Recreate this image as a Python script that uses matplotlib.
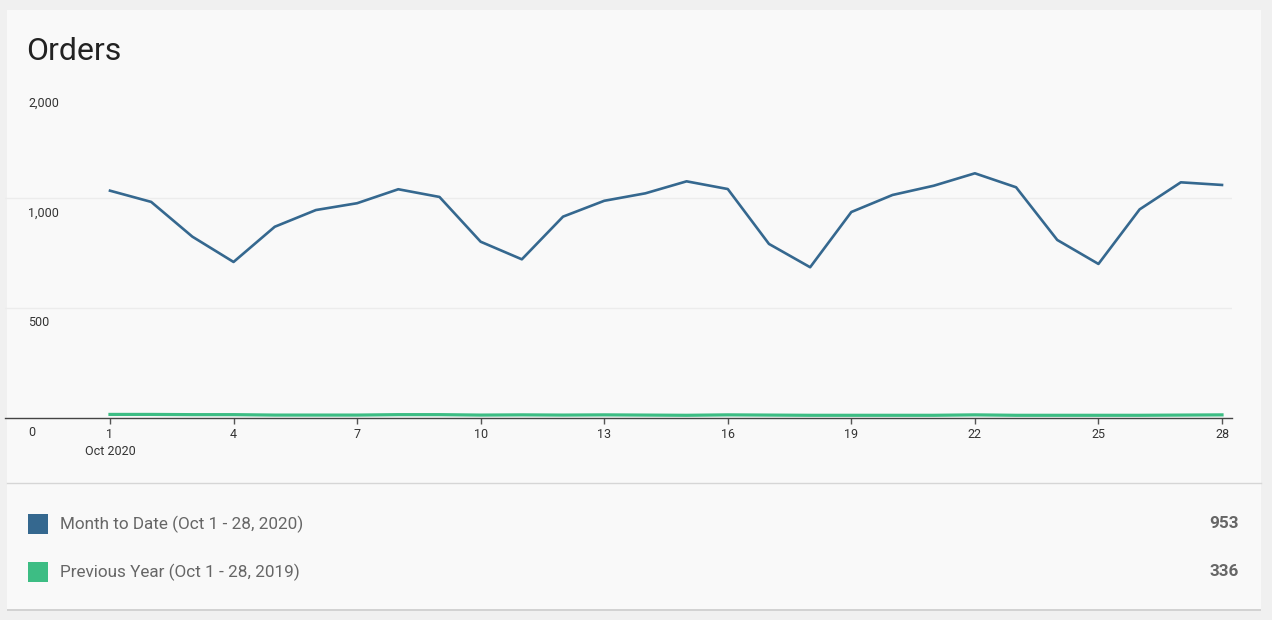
import numpy as np
import matplotlib
matplotlib.use('Agg')
import matplotlib.pyplot as plt
from matplotlib import transforms
from matplotlib.patches import Rectangle

plt.rcParams['font.family'] = ['Roboto', 'DejaVu Sans']

# data
days = list(range(1, 29))
month_to_date = [1062, 980, 822, 707, 867, 943, 974, 1075, 1005, 799,
                 719, 913, 985, 1038, 1147, 1077, 789, 683, 934, 1023,
                 1107, 1220, 1093, 807, 698, 946, 1138, 1114]
previous_year = [14, 14, 13, 13, 11, 11, 11, 13, 13, 11,
                 12, 11, 12, 11, 10, 12, 11, 10, 10, 10,
                 10, 12, 10, 10, 10, 10, 11, 12]
series_names = ['Month to Date (Oct 1 - 28, 2020)', 'Previous Year (Oct 1 - 28, 2019)']
series_totals = ['953', '336']
series_colors = ['#35688f', '#3dbd84']

y_ticks = [0, 500, 1000, 2000]
y_labels = ['0', '500', '1,000', '2,000']
x_ticks = [1, 4, 7, 10, 13, 16, 19, 22, 25, 28]

W, H = 1272, 620
fig = plt.figure(figsize=(W / 100, H / 100), dpi=100)
fig.patch.set_facecolor('#f0f0f0')

def fx(px):
    return px / W

def fy(py):
    return 1 - py / H

# card background (behind the axes)
fig.patches.append(Rectangle((fx(7), fy(611)), fx(1254), (611 - 10) / H,
                             transform=fig.transFigure, facecolor='#d2d2d2',
                             edgecolor='none', zorder=-2))
fig.patches.append(Rectangle((fx(7), fy(609)), fx(1254), (609 - 10) / H,
                             transform=fig.transFigure, facecolor='#f9f9f9',
                             edgecolor='none', zorder=-1))
# divider between chart and legend
fig.lines.append(plt.Line2D([fx(7), fx(1261)], [fy(483), fy(483)],
                            transform=fig.transFigure, color='#d6d6d6', lw=1))

fig.text(fx(26), fy(51), 'Orders', fontsize=23, color='#222222', va='center', ha='left')

ax = fig.add_axes([fx(5), fy(417.5), fx(1232 - 5), (417.5 - 87.5) / H])
ax.set_facecolor('none')

# evenly spaced ticks scale (0, 500, 1000, 2000)
steps = np.arange(len(y_ticks))
def fwd(v):
    return np.interp(v, y_ticks, steps)
def inv(v):
    return np.interp(v, steps, y_ticks)
ax.set_yscale('function', functions=(fwd, inv))
ax.set_ylim(0, 2000)
ax.set_xlim(1 - 105 / 41.19, 28 + 10 / 41.19)

ax.plot(days, previous_year, color=series_colors[1], lw=2.3, clip_on=False, zorder=3)
ax.plot(days, month_to_date, color=series_colors[0], lw=1.9, zorder=4)

for s in ['top', 'right', 'left']:
    ax.spines[s].set_visible(False)
ax.spines['bottom'].set_color('#444444')
ax.spines['bottom'].set_linewidth(1)

ax.set_yticks([500, 1000])
ax.set_yticklabels([])
ax.tick_params(axis='y', length=0)
ax.grid(axis='y', color='#ececec', lw=1)
ax.set_axisbelow(True)

ax.set_xticks(x_ticks)
ax.set_xticklabels(['1\nOct 2020'] + [str(d) for d in x_ticks[1:]],
                   fontsize=9, color='#333333', linespacing=1.45)
ax.tick_params(axis='x', length=4, width=1, color='#555555', pad=3.5)

trans = transforms.blended_transform_factory(ax.transAxes, ax.transData) + \
    transforms.ScaledTranslation(0, -15.5 / 100, fig.dpi_scale_trans)
for v, lab in zip(y_ticks, y_labels):
    ax.text(23 / 1227, v, lab, transform=trans, fontsize=9, color='#333333',
            ha='left', va='center')

# legend panel
rows_y = [524, 572]
for name, total, col, ry in zip(series_names, series_totals, series_colors, rows_y):
    fig.patches.append(Rectangle((fx(28), fy(ry + 10)), fx(20), 20 / H,
                                 transform=fig.transFigure, facecolor=col,
                                 edgecolor='none'))
    fig.text(fx(60), fy(ry), name, fontsize=12.3, color='#666666', va='center', ha='left')
    fig.text(fx(1239), fy(ry), total, fontsize=12.3, color='#666666', va='center',
             ha='right', fontweight='bold')

fig.savefig('out.png', dpi=100, facecolor=fig.get_facecolor())
